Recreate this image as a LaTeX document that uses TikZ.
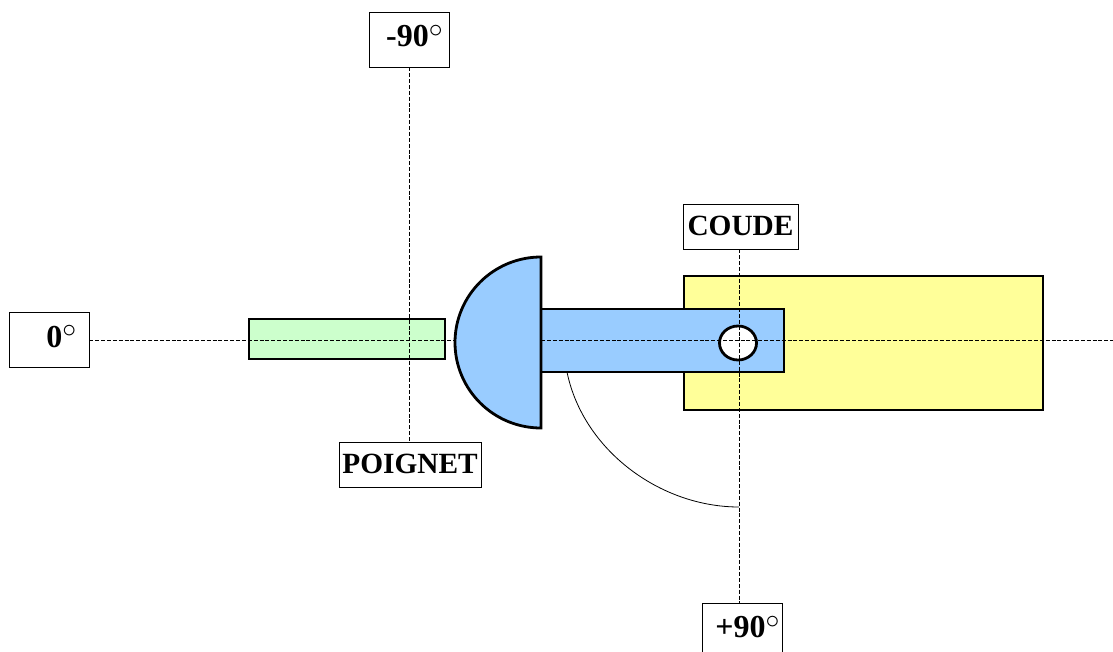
\documentclass[tikz,border=0pt]{standalone}
\usepackage{fontspec}
\usetikzlibrary{shapes.geometric}
\setmainfont{Liberation Serif}
\newcommand{\degmark}{{\fontsize{20}{20}\selectfont\raisebox{7pt}{$\circ$}}}
\tikzset{
  x=0.75pt,y=-0.75pt,
  part/.style={draw=black,line width=2.1pt},
  label box/.style={draw=black,fill=white,line width=0.6pt,inner sep=0pt,
    minimum height=33.75pt,text height=15pt,text depth=2pt,font=\bfseries\fontsize{22}{22}\selectfont},
  angle box/.style={label box,minimum width=60pt,minimum height=41.25pt,text height=15pt,text depth=4.5pt,font=\bfseries\fontsize{24}{24}\selectfont},
  axis/.style={draw=black,line width=0.7pt,dash pattern=on 3pt off 1.4pt},
  sweep/.style={draw=black,line width=0.6pt}
}
\definecolor{armblue}{HTML}{99CCFF}
\definecolor{palegreen}{HTML}{CCFFCC}
\definecolor{paleyellow}{HTML}{FFFF99}
\begin{document}
\begin{tikzpicture}
\useasboundingbox (0,0) rectangle (1113,652);
\clip (0,0) rectangle (1113,652);
% parts under the axes
\node[part,fill=paleyellow,inner sep=0pt,minimum width=269.25pt,minimum height=100.5pt] (upper) at (863.5,343) {};
\node[part,fill=palegreen,inner sep=0pt,minimum width=147pt,minimum height=30pt] (hand) at (347,339) {};
\node[part,fill=armblue,inner sep=0pt,minimum width=182.25pt,minimum height=47.25pt] (fore) at (662.5,340.5) {};
\node[part,fill=white,ellipse,inner sep=0pt,minimum width=27.75pt,minimum height=25.5pt] (hole) at (738,343) {};
% boxes
\node[angle box] (zero) at (49,340) {\hspace*{18.5pt}0\degmark};
\node[angle box] (minus) at (409,39.5) {\hspace*{8pt}-90\degmark};
\node[label box,minimum width=86.25pt] (coude) at (740.5,226.5) {COUDE};
\node[label box,minimum width=106.5pt] (poignet) at (410,464.5) {POIGNET};
\node[angle box] (plus) at (742,630.5) {\hspace*{8pt}+90\degmark};
\coordinate (axisx) at (739,0);
\coordinate (rightend) at (1113,340);
\coordinate (arcstart) at (567,372);
\coordinate (arcend) at (739,507);
% axes
\draw[axis] (zero.east) -- (rightend);
\draw[axis] (minus.south) -- (minus.south |- poignet.north);
\draw[axis] (axisx |- coude.south) -- (axisx |- plus.north);
% wrist disc covers the axis
\draw[part,fill=armblue] (541,257) arc[start angle=270,end angle=90,x radius=86,y radius=85.5] -- cycle;
% sweep
\draw[sweep] (arcstart) .. controls (583,450) and (660,507) .. (arcend);
\end{tikzpicture}
\end{document}
